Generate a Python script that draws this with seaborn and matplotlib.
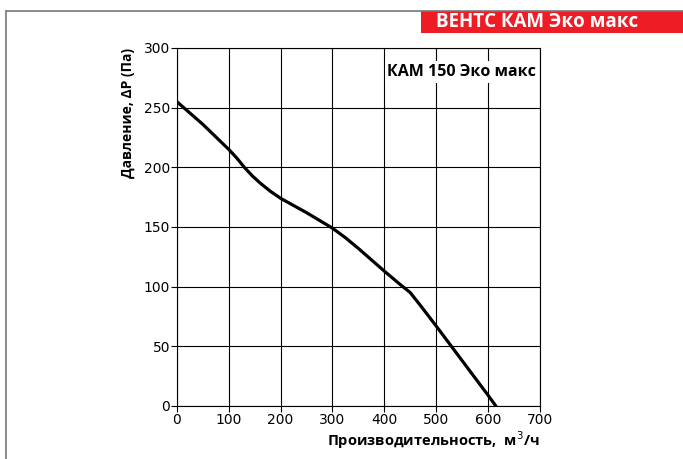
import numpy as np
import pandas as pd
import matplotlib
matplotlib.use("Agg")
import matplotlib.pyplot as plt
from matplotlib.lines import Line2D
from matplotlib.patches import Rectangle
import seaborn as sns

# curve
flow = [0, 50, 100, 115, 130, 145, 160, 180, 200, 250, 300, 325, 350, 400, 430, 450, 470, 500, 550, 600, 615]
pressure = [255, 236, 215, 208, 200, 193, 187, 180, 174, 162, 149, 141, 132, 113, 102, 95, 84, 67, 38, 9, 0]
x_ticks = [0, 100, 200, 300, 400, 500, 600, 700]
y_ticks = [0, 50, 100, 150, 200, 250, 300]

df = pd.DataFrame({"flow": flow, "pressure": pressure})

sns.set_style("white")
plt.rcParams['font.family'] = ['DejaVu Sans']
plt.rcParams['text.color'] = 'black'
plt.rcParams['axes.labelcolor'] = 'black'
plt.rcParams['xtick.color'] = 'black'
plt.rcParams['ytick.color'] = 'black'

fig = plt.figure(figsize=(6.83, 4.59), dpi=100)
ax = fig.add_axes([0.259, 0.1155, 0.5315, 0.78])

sns.lineplot(data=df, x="flow", y="pressure", ax=ax, color="black", linewidth=2.3)

ax.set_xlim(0, 700)
ax.set_ylim(0, 300)
ax.set_xticks(x_ticks)
ax.set_yticks(y_ticks)
ax.grid(True, color="black", linewidth=0.8)
for s in ax.spines.values():
    s.set_color("black")
    s.set_linewidth(0.8)
ax.tick_params(axis="both", labelsize=10, length=4, direction="out",
               left=True, bottom=True, pad=1)

ax.set_xlabel("Производительность,  м$^3$/ч", fontsize=10.5, fontweight="bold",
              family="Open Sans", loc="right", labelpad=2)
ax.set_ylabel("Давление, ΔP (Па)", fontsize=10, fontweight="bold",
              family="Open Sans", loc="top", labelpad=6)

ax.text(0.99, 0.955, "КАМ 150 Эко макс", transform=ax.transAxes, ha="right", va="top",
        fontsize=11.5, fontweight="bold", family="Open Sans",
        bbox=dict(facecolor="white", edgecolor="none", pad=2))

# page frame and red banner
fig.add_artist(Line2D([6 / 683, 1], [1 - 11 / 459, 1 - 11 / 459], color="#777777", lw=1.2))
fig.add_artist(Line2D([6 / 683, 6 / 683], [0, 1 - 11 / 459], color="#777777", lw=1.2))
fig.add_artist(Rectangle((421 / 683, 1 - 33 / 459), 262 / 683, 22 / 459,
                         transform=fig.transFigure, facecolor="#ee1c25", edgecolor="none"))
fig.text(436 / 683, 1 - 22 / 459, "ВЕНТС КАМ Эко макс", color="white", fontsize=13.5,
         fontweight="bold", family="Open Sans", va="center", ha="left")

fig.savefig("out.png", dpi=100)
